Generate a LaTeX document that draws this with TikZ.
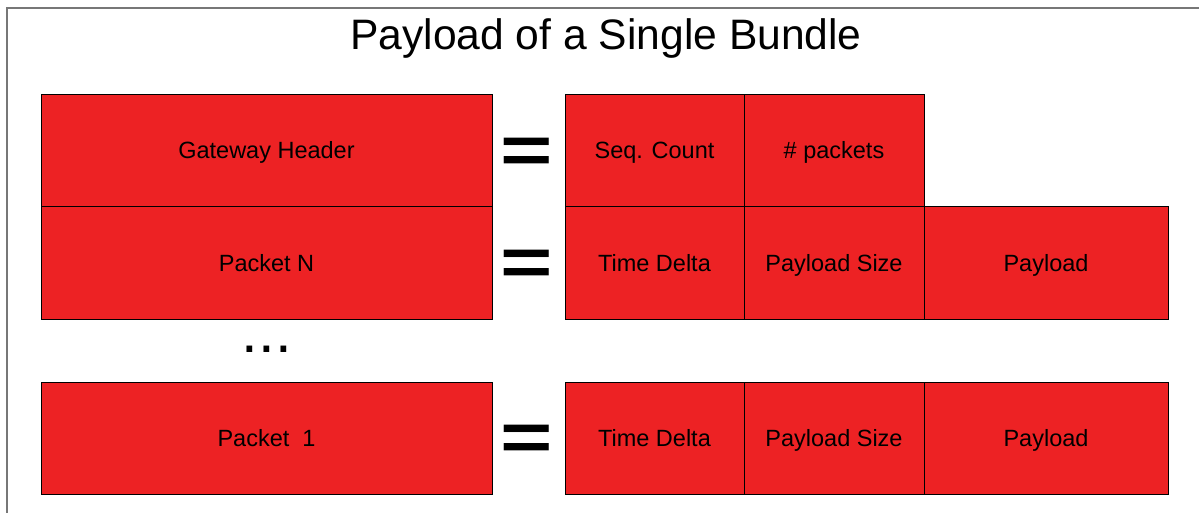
\documentclass[tikz,border=0pt]{standalone}
\usepackage{fontspec}
\setmainfont{Liberation Sans}
\definecolor{boxred}{HTML}{ED2224}
\definecolor{framegray}{HTML}{777777}
\begin{document}
\begin{tikzpicture}[x=1pt,y=-1pt,
  cell/.style={draw=black, line width=1pt, fill=boxred, inner sep=0pt, outer sep=0pt, text height=17pt, text depth=0pt, font=\fontsize{23.5}{26}\selectfont},
  eqsign/.style={inner sep=0pt, xscale=1.32, font=\fontsize{68}{68}\selectfont\bfseries},
  dotsym/.style={inner sep=0pt, font=\fontsize{60}{60}\selectfont}]
\useasboundingbox (0,0) rectangle (1199,512);
\draw[framegray, line width=1.2pt] (7,520) -- (7,8) -- (1210,8);
\node (title) at (606,38) {\fontsize{42.6}{46}\selectfont Payload of a Single Bundle};
% left column
\node[cell, minimum width=451, minimum height=112] (gw) at (266.5,150) {Gateway Header};
\node[cell, minimum width=451, minimum height=113] (pn) at (266.5,262.5) {Packet N};
\node[cell, minimum width=451, minimum height=112] (p1) at (266.5,438) {Packet~~1};
% right column row 1
\node[cell, minimum width=179, minimum height=112] (seq) at (654.5,150) {Seq. Count};
\node[cell, minimum width=180, minimum height=112] (npk) at (834,150) {\# packets};
% row 2
\node[cell, minimum width=179, minimum height=113] (tdN) at (654.5,262.5) {Time Delta};
\node[cell, minimum width=180, minimum height=113] (psN) at (834,262.5) {Payload Size};
\node[cell, minimum width=244, minimum height=113] (plN) at (1046,262.5) {Payload};
% row 3
\node[cell, minimum width=179, minimum height=112] (td1) at (654.5,438) {Time Delta};
\node[cell, minimum width=180, minimum height=112] (ps1) at (834,438) {Payload Size};
\node[cell, minimum width=244, minimum height=112] (pl1) at (1046,438) {Payload};
% equals signs
\node[eqsign] (eq1) at (527,155.5) {=};
\node[eqsign] (eq2) at (527,268) {=};
\node[eqsign] (eq3) at (527,443) {=};
% dots
\node[dotsym] (dots) at (267,349) {...};
\end{tikzpicture}
\end{document}
